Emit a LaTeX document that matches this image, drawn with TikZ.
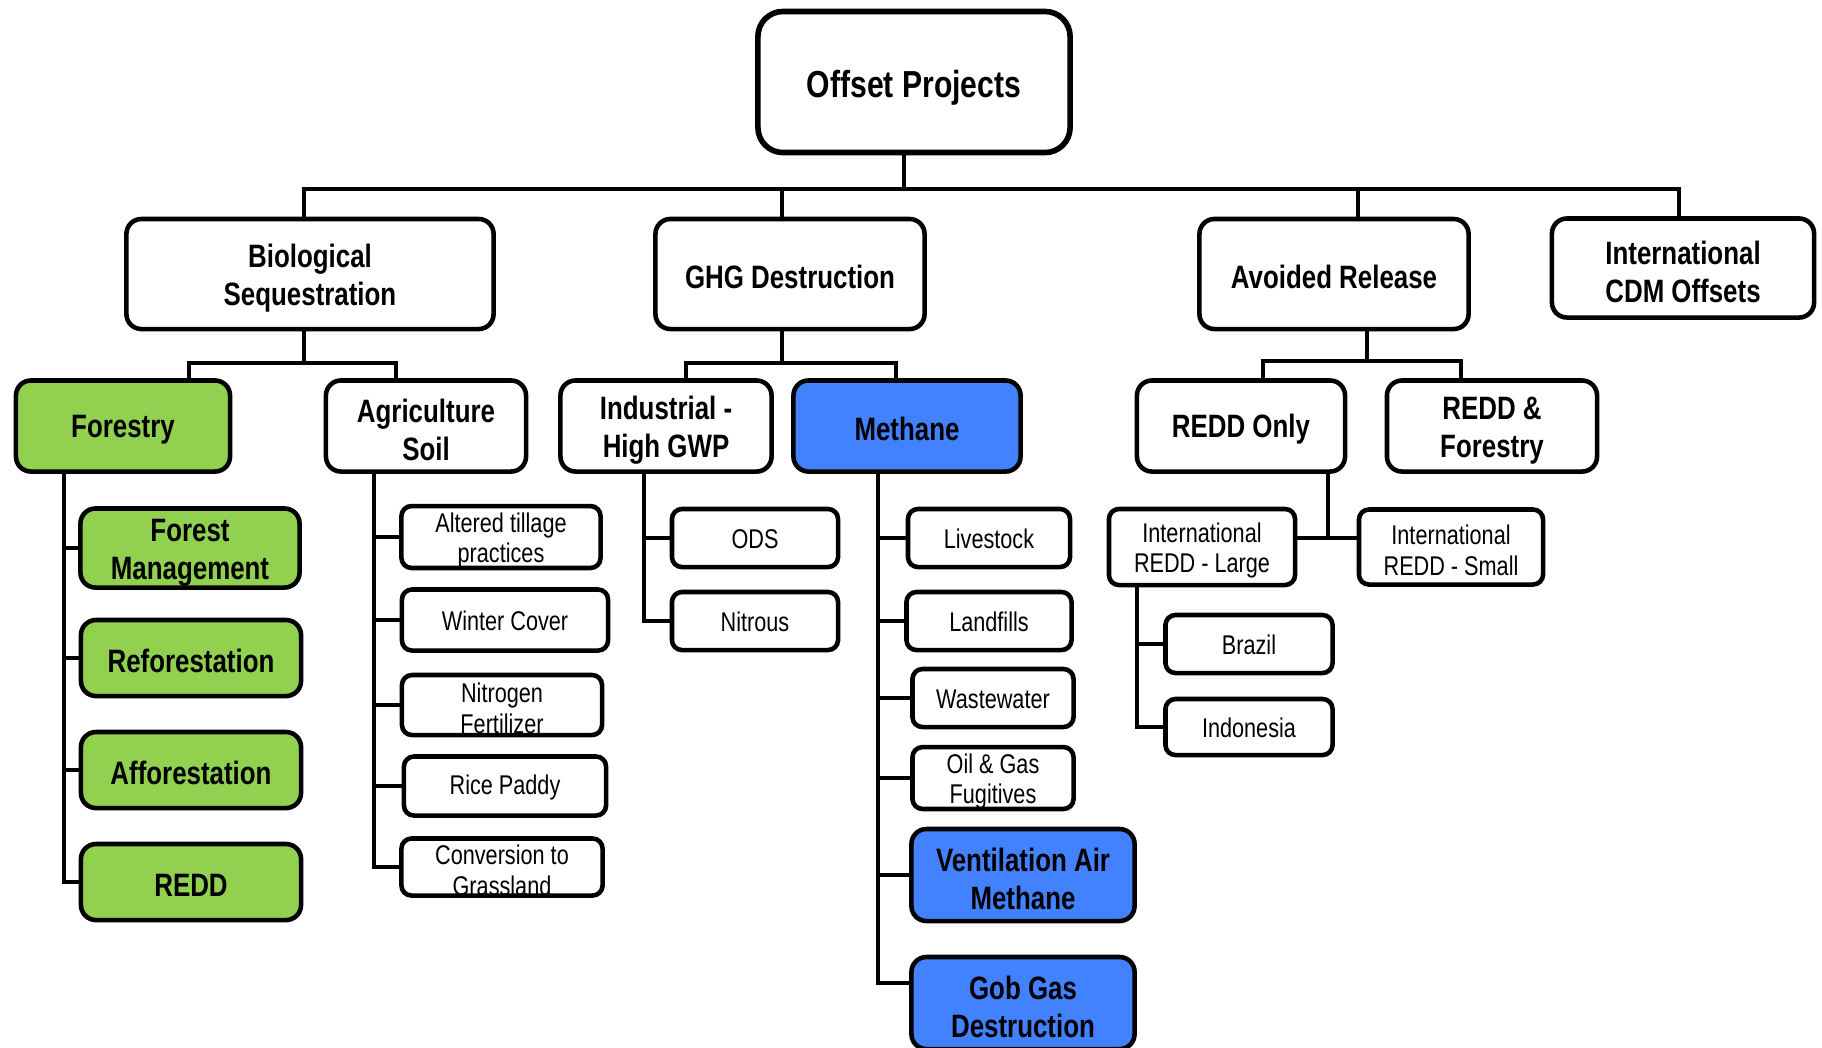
\documentclass[tikz,border=0pt]{standalone}
\usepackage{fontspec}
\setmainfont{Liberation Sans}[FakeStretch=0.8]
\usepackage{tikz}

\definecolor{leafgreen}{RGB}{146,208,80}
\definecolor{gasblue}{RGB}{66,130,255}

\tikzset{
  box/.style={draw=black, fill=white, line width=1.3pt, align=center, inner sep=0pt},
  topbox/.style={box, line width=1.6pt, rounded corners=0.25cm,
    font=\fontsize{10.7}{12.6}\selectfont\bfseries,
    execute at begin node={\rule{0pt}{1.05em}}},
  bigbox/.style={box, rounded corners=0.15cm,
    font=\fontsize{9.2}{10.9}\selectfont\bfseries,
    execute at begin node={\rule{0pt}{0.9em}}},
  smallbox/.style={box, rounded corners=0.1cm,
    font=\fontsize{7.7}{8.6}\selectfont,
    execute at begin node={\rule{0pt}{0.82em}}},
  bigtwo/.style={execute at begin node={\rule{0pt}{19.8pt}}},
  smalltwo/.style={execute at begin node={\rule{0pt}{16pt}}},
  greenbox/.style={bigbox, fill=leafgreen},
  bluebox/.style={bigbox, fill=gasblue},
  link/.style={line width=1.15pt},
}

\begin{document}
\begin{tikzpicture}[x=0.01cm, y=-0.01cm]
\useasboundingbox (0,0) rectangle (1822,1047);
\node[topbox, minimum width=3.12cm, minimum height=1.41cm](offset) at (914,82) {Offset Projects};
%
\node[bigbox, bigtwo, minimum width=3.67cm, minimum height=1.1cm](bio) at (310,274) {Biological\\Sequestration};
\node[bigbox, minimum width=2.69cm, minimum height=1.1cm](ghg) at (790,274) {GHG Destruction};
\node[bigbox, minimum width=2.69cm, minimum height=1.1cm](avoid) at (1334,274) {Avoided Release};
\node[bigbox, bigtwo, minimum width=2.62cm, minimum height=0.99cm](cdm) at (1683,268) {International\\CDM Offsets};
\coordinate(jTop) at (904,189);
\coordinate(jBio) at (304,189);
\coordinate(jGhg) at (782,189);
\coordinate(jAvoid) at (1358,189);
\coordinate(jCdm) at (1679,189);
\draw[link](offset.south -| jTop) -- (jTop);
\draw[link](bio.north -| jBio) -- (jBio) -- (jCdm) -- (cdm.north -| jCdm);
\draw[link](ghg.north -| jGhg) -- (jGhg);
\draw[link](avoid.north -| jAvoid) -- (jAvoid);
%
\node[greenbox, minimum width=2.14cm, minimum height=0.91cm](forestry) at (123,426) {Forestry};
\node[bigbox, bigtwo, minimum width=2.0cm, minimum height=0.91cm](agri) at (426,426) {Agriculture\\Soil};
\coordinate(jFor) at (189,363);
\coordinate(jAgri) at (396,363);
\draw[link](bio.south -| jBio) -- (jBio |- jFor);
\draw[link](forestry.north -| jFor) -- (jFor) -- (jAgri) -- (agri.north -| jAgri);
%
\node[bigbox, bigtwo, minimum width=2.11cm, minimum height=0.91cm](indus) at (666,426) {Industrial -\\High GWP};
\node[bluebox, minimum width=2.27cm, minimum height=0.91cm](methane) at (907,426) {Methane};
\coordinate(jInd) at (686,363);
\coordinate(jMeth) at (896,363);
\draw[link](ghg.south -| jGhg) -- (jGhg |- jInd);
\draw[link](indus.north -| jInd) -- (jInd) -- (jMeth) -- (methane.north -| jMeth);
%
\node[bigbox, minimum width=2.08cm, minimum height=0.91cm](reddonly) at (1241,426) {REDD Only};
\node[bigbox, bigtwo, minimum width=2.1cm, minimum height=0.91cm](reddfor) at (1492,426) {REDD \&\\Forestry};
\coordinate(jAvoidLow) at (1367,361);
\coordinate(jRonly) at (1263,361);
\coordinate(jRfor) at (1461,361);
\draw[link](avoid.south -| jAvoidLow) -- (jAvoidLow);
\draw[link](reddonly.north -| jRonly) -- (jRonly) -- (jRfor) -- (reddfor.north -| jRfor);
%
\node[greenbox, bigtwo, minimum width=2.19cm, minimum height=0.79cm](fm) at (190,548) {Forest\\Management};
\node[greenbox, minimum width=2.2cm, minimum height=0.76cm](refor) at (191,658) {Reforestation};
\node[greenbox, minimum width=2.2cm, minimum height=0.76cm](affor) at (191,770) {Afforestation};
\node[greenbox, minimum width=2.2cm, minimum height=0.76cm](reddF) at (191,882) {REDD};
\coordinate(rFor) at (64,0);
\draw[link](forestry.south -| rFor) |- (reddF.west);
\draw[link](fm.west -| rFor) -- (fm.west);
\draw[link](refor.west -| rFor) -- (refor.west);
\draw[link](affor.west -| rFor) -- (affor.west);
%
\node[smallbox, smalltwo, minimum width=1.99cm, minimum height=0.61cm](tillage) at (501,537) {Altered tillage\\practices};
\node[smallbox, minimum width=2.06cm, minimum height=0.61cm](winter) at (505,620) {Winter Cover};
\node[smallbox, smalltwo, minimum width=2.0cm, minimum height=0.6cm](nitro) at (502,705) {Nitrogen\\Fertilizer};
\node[smallbox, minimum width=2.02cm, minimum height=0.59cm](rice) at (505,786) {Rice Paddy};
\node[smallbox, smalltwo, minimum width=2.01cm, minimum height=0.57cm](grass) at (502,867) {Conversion to\\Grassland};
\coordinate(rAgri) at (374,0);
\draw[link](agri.south -| rAgri) |- (grass.west);
\draw[link](tillage.west -| rAgri) -- (tillage.west);
\draw[link](winter.west -| rAgri) -- (winter.west);
\draw[link](nitro.west -| rAgri) -- (nitro.west);
\draw[link](rice.west -| rAgri) -- (rice.west);
%
\node[smallbox, minimum width=1.66cm, minimum height=0.58cm](ods) at (755,538) {ODS};
\node[smallbox, minimum width=1.66cm, minimum height=0.58cm](nitrous) at (755,621) {Nitrous};
\coordinate(rInd) at (644,0);
\draw[link](indus.south -| rInd) |- (nitrous.west);
\draw[link](ods.west -| rInd) -- (ods.west);
%
\node[smallbox, minimum width=1.62cm, minimum height=0.58cm](livestock) at (989,538) {Livestock};
\node[smallbox, minimum width=1.65cm, minimum height=0.58cm](landfill) at (989,621) {Landfills};
\node[smallbox, minimum width=1.61cm, minimum height=0.58cm](waste) at (993,698) {Wastewater};
\node[smallbox, smalltwo, minimum width=1.61cm, minimum height=0.58cm](oilgas) at (993,778) {Oil \& Gas\\Fugitives};
\node[bluebox, bigtwo, minimum width=2.23cm, minimum height=0.92cm](vam) at (1023,875) {Ventilation Air\\Methane};
\node[bluebox, bigtwo, minimum width=2.23cm, minimum height=0.92cm](gob) at (1023,1003) {Gob Gas\\Destruction};
\coordinate(rMeth) at (878,0);
\draw[link](methane.south -| rMeth) |- (gob.170);
\draw[link](livestock.west -| rMeth) -- (livestock.west);
\draw[link](landfill.west -| rMeth) -- (landfill.west);
\draw[link](waste.west -| rMeth) -- (waste.west);
\draw[link](oilgas.west -| rMeth) -- (oilgas.west);
\draw[link](vam.west -| rMeth) -- (vam.west);
%
\node[smallbox, smalltwo, minimum width=1.86cm, minimum height=0.76cm](intlL) at (1202,547) {International\\REDD - Large};
\node[smallbox, smalltwo, minimum width=1.84cm, minimum height=0.75cm](intlS) at (1451,547) {International\\REDD - Small};
\coordinate(jRedd) at (1328,538);
\draw[link](reddonly.south -| jRedd) -- (jRedd);
\draw[link](intlL.east |- jRedd) -- (intlS.west |- jRedd);
%
\node[smallbox, minimum width=1.67cm, minimum height=0.58cm](brazil) at (1249,644) {Brazil};
\node[smallbox, minimum width=1.67cm, minimum height=0.56cm](indo) at (1249,727) {Indonesia};
\coordinate(rIntl) at (1137,0);
\draw[link](intlL.south -| rIntl) |- (indo.west);
\draw[link](brazil.west -| rIntl) -- (brazil.west);
\end{tikzpicture}
\end{document}
